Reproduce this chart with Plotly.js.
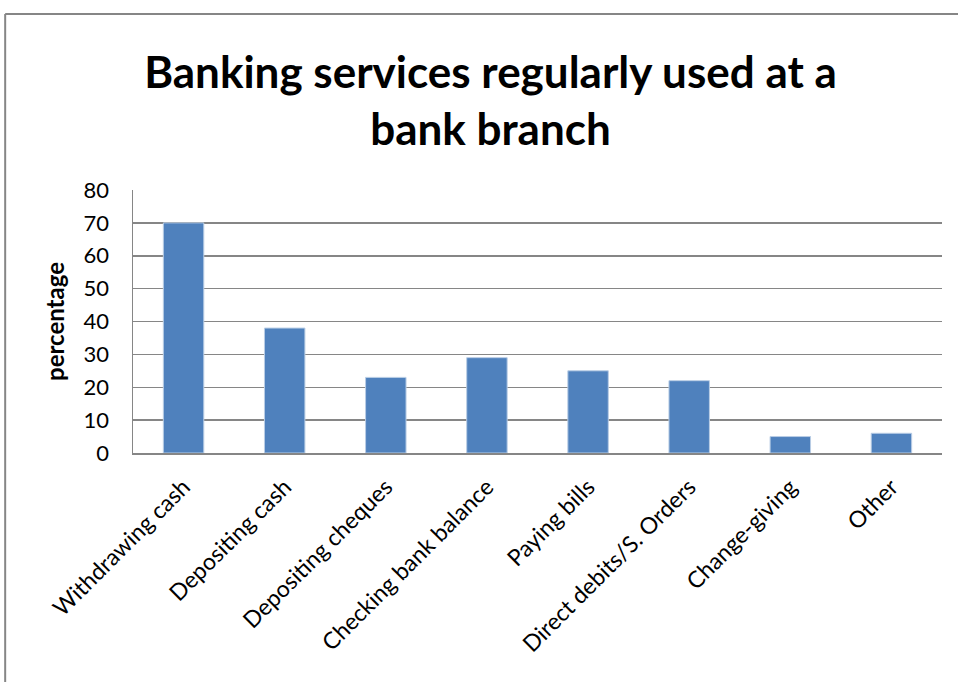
<!DOCTYPE html>
<html>
<head>
<meta charset="utf-8">
<script src="https://cdn.plot.ly/plotly-3.0.1.min.js"></script>
<style>html,body{margin:0;padding:0;background:#fff;}#chart{width:958px;height:682px;}</style>
</head>
<body>
<div id="chart"></div>
<script>
const categories = ["Withdrawing cash", "Depositing cash", "Depositing cheques", "Checking bank balance", "Paying bills", "Direct debits/S. Orders", "Change-giving", "Other"];
const values = [70, 38, 23, 29, 25, 22, 5, 6];
const yTicks = [0, 10, 20, 30, 40, 50, 60, 70, 80];

const font = "Lato, Open Sans, sans-serif";

const trace = {
  type: "bar",
  x: categories,
  y: values,
  marker: { color: "#4F81BD", line: { color: "#B9CDE5", width: 1 } },
  hoverinfo: "x+y"
};

const layout = {
  width: 958,
  height: 682,
  margin: { l: 133, r: 16, t: 190, b: 229 },
  paper_bgcolor: "#fff",
  plot_bgcolor: "#fff",
  showlegend: false,
  bargap: 0.6,
  font: { family: font },
  title: {
    text: "Banking services regularly used at a<br>bank branch",
    font: { family: font, size: 44, color: "#000", weight: "bold" },
    x: 0.512, xanchor: "center",
    y: 1 - 88 / 682, yanchor: "top"
  },
  xaxis: {
    type: "category",
    tickangle: -45,
    tickfont: { family: font, size: 23, color: "#000" },
    showline: true, linecolor: "#868686", linewidth: 1.5,
    ticks: "", showgrid: false,
    ticklabelstandoff: 10
  },
  yaxis: {
    range: [0, 80],
    tickvals: yTicks,
    ticktext: yTicks.map(String),
    tickfont: { family: font, size: 22, color: "#000" },
    showgrid: true, gridcolor: "#868686", gridwidth: 1.5,
    showline: true, linecolor: "#868686", linewidth: 1.5,
    zeroline: false, ticks: "", ticklen: 0,
    ticklabelstandoff: 18,
    title: { text: "percentage", font: { family: font, size: 24, color: "#000", weight: "bold" }, standoff: 12 }
  },
  shapes: [
    { type: "line", xref: "paper", yref: "paper", x0: -0.158, x1: -0.158, y0: -0.9, y1: 1.669, line: { color: "#868686", width: 2 } },
    { type: "line", xref: "paper", yref: "paper", x0: -0.158, x1: 1.1, y0: 1.669, y1: 1.669, line: { color: "#868686", width: 2 } }
  ]
};

Plotly.newPlot("chart", [trace], layout, { displayModeBar: false, staticPlot: true });
</script>
</body>
</html>
